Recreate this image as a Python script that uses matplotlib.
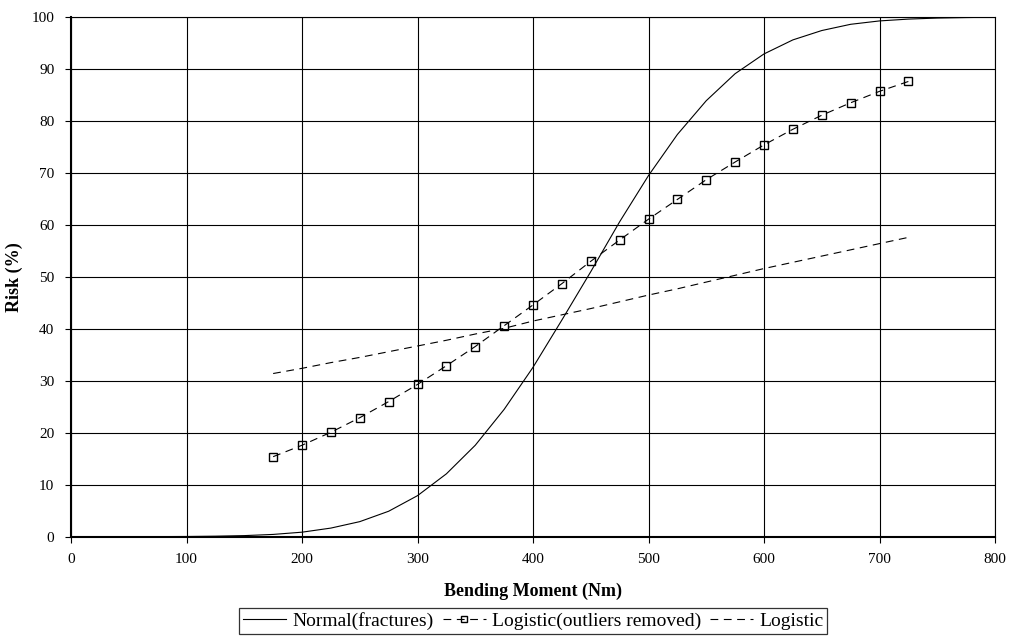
import matplotlib
matplotlib.use("Agg")
import matplotlib.pyplot as plt

# Normal(fractures) curve, every 25 Nm
normal_x = [0, 25, 50, 75, 100, 125, 150, 175, 200, 225, 250, 275, 300, 325, 350,
            375, 400, 425, 450, 475, 500, 525, 550, 575, 600, 625, 650, 675, 700,
            725, 750, 775, 800]
normal_risk = [0.0, 0.0, 0.01, 0.02, 0.04, 0.1, 0.21, 0.44, 0.87, 1.66, 2.9, 4.9, 7.9,
               12.1, 17.6, 24.5, 32.6, 41.7, 51.0, 60.6, 69.5, 77.4, 83.9, 89.1, 92.9,
               95.6, 97.4, 98.6, 99.25, 99.6, 99.8, 99.9, 99.97]

# Logistic fits at 175..725 Nm
moment = [175, 200, 225, 250, 275, 300, 325, 350, 375, 400, 425, 450,
          475, 500, 525, 550, 575, 600, 625, 650, 675, 700, 725]
logistic_removed = [15.4, 17.6, 20.1, 22.9, 26.0, 29.3, 32.9, 36.6, 40.6, 44.6, 48.7, 53.0,
                    57.1, 61.1, 64.9, 68.7, 72.1, 75.4, 78.4, 81.1, 83.5, 85.7, 87.6]
logistic_all = [31.4, 32.4, 33.5, 34.5, 35.6, 36.7, 37.8, 39.0, 40.1, 41.5, 42.7, 43.9,
                45.2, 46.5, 47.7, 49.0, 50.3, 51.6, 52.8, 54.0, 55.2, 56.4, 57.6]

x_ticks = list(range(0, 801, 100))
y_ticks = list(range(0, 101, 10))

plt.rcParams["font.family"] = ["Liberation Serif", "DejaVu Serif"]

fig = plt.figure(figsize=(10.12, 6.4), dpi=100)
ax = fig.add_axes([0.0702, 0.1614, 0.913, 0.812])

ax.plot(normal_x, normal_risk, color="black", linewidth=0.8, label="Normal(fractures)")
ax.plot(moment, logistic_removed, color="black", linewidth=0.8, linestyle=(0, (7, 5)),
        marker="s", markersize=6, markerfacecolor="none", markeredgecolor="black",
        markeredgewidth=1.0, label="Logistic(outliers removed)")
ax.plot(moment, logistic_all, color="black", linewidth=0.8, linestyle=(0, (7, 5)),
        label="Logistic")

ax.set_xlim(0, 800)
ax.set_ylim(0, 100)
ax.set_xticks(x_ticks)
ax.set_yticks(y_ticks)
ax.grid(True, color="black", linewidth=0.8)
ax.set_axisbelow(True)
for side in ["top", "right"]:
    ax.spines[side].set_linewidth(0.8)
for side in ["left", "bottom"]:
    ax.spines[side].set_linewidth(1.5)
ax.tick_params(direction="out", length=4, width=0.8, labelsize=11, pad=8)

ax.set_xlabel("Bending Moment (Nm)", fontsize=13, fontweight="bold", labelpad=12)
ax.set_ylabel("Risk (%)", fontsize=13, fontweight="bold", labelpad=6)

leg = fig.legend(loc="lower center", bbox_to_anchor=(0.527, -0.006), ncol=3,
                 fontsize=14, frameon=True, fancybox=False, handlelength=2.2,
                 handletextpad=0.3, columnspacing=0.5, borderpad=0.2,
                 markerscale=0.7)
leg.get_frame().set_edgecolor("black")
leg.get_frame().set_linewidth(0.9)

fig.savefig("out.png", dpi=100, facecolor="white")
